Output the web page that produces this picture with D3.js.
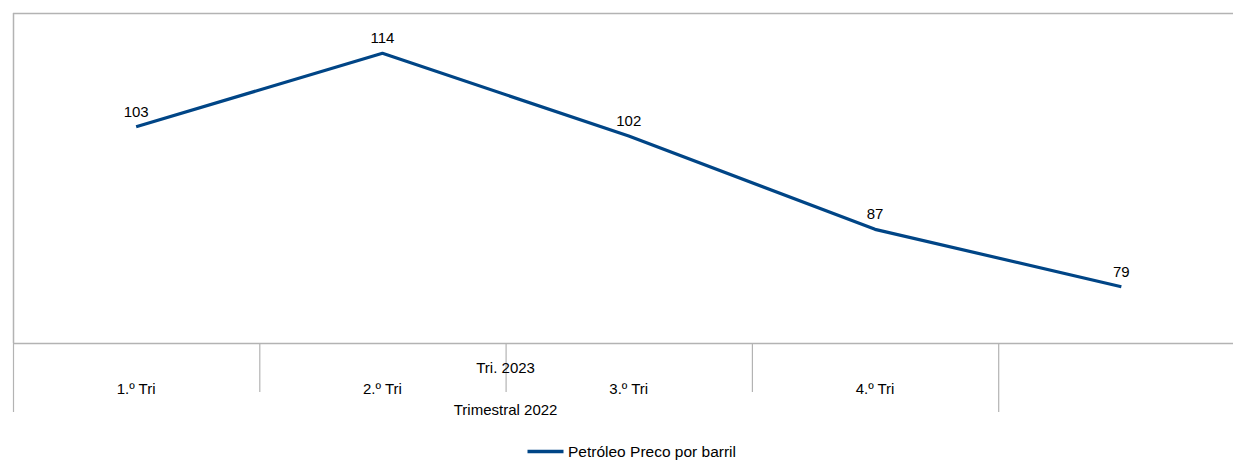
<!DOCTYPE html>
<html>
<head>
<meta charset="utf-8">
<script src="https://cdn.jsdelivr.net/npm/d3@7"></script>
<style>
  html, body { margin: 0; padding: 0; background: #fff; overflow: hidden; }
  svg { display: block; }
  text { font-family: "Liberation Sans", Arial, sans-serif; font-size: 15px; fill: #000; }
</style>
</head>
<body>
<svg id="chart" width="1233" height="460"></svg>
<script>
// Quarterly oil price per barrel
const categories = ["1.º Tri", "2.º Tri", "3.º Tri", "4.º Tri", ""];
const prices = [102.97, 114.09, 101.56, 87.42, 78.73];
const seriesName = "Petróleo Preco por barril";
const groupLabels = ["Trimestral 2022", "Tri. 2023"];
const yDomain = [70.2, 120.2];

const W = 1233, H = 460;
const plot = { left: 13, top: 13, right: 1244.5, bottom: 343 };
const lineColor = "#004586";
const frameColor = "#b3b3b3";

const svg = d3.select("#chart");

const x = d3.scaleBand()
  .domain(d3.range(categories.length))
  .range([plot.left, plot.right])
  .paddingInner(0).paddingOuter(0);

const y = d3.scaleLinear().domain(yDomain).range([plot.bottom, plot.top]);

// plot frame: top and left edges
svg.append("line")
  .attr("x1", plot.left).attr("x2", plot.right)
  .attr("y1", plot.top + 0.5).attr("y2", plot.top + 0.5)
  .attr("stroke", frameColor).attr("stroke-width", 1.5);
svg.append("line")
  .attr("x1", plot.left + 0.5).attr("x2", plot.left + 0.5)
  .attr("y1", plot.top).attr("y2", plot.bottom)
  .attr("stroke", frameColor).attr("stroke-width", 1.5);

// category axis line
svg.append("line")
  .attr("x1", plot.left).attr("x2", plot.right)
  .attr("y1", plot.bottom + 0.5).attr("y2", plot.bottom + 0.5)
  .attr("stroke", frameColor).attr("stroke-width", 1.5);

// divider ticks between categories; group boundaries run longer
const innerTickEnd = 392, outerTickEnd = 412;
const groupEdges = [0, 4];
d3.range(categories.length + 1).forEach(i => {
  const xi = i < categories.length ? x(i) : x(i - 1) + x.bandwidth();
  const isEdge = groupEdges.includes(i);
  svg.append("line")
    .attr("x1", xi + 0.5).attr("x2", xi + 0.5)
    .attr("y1", plot.bottom).attr("y2", isEdge ? outerTickEnd : innerTickEnd)
    .attr("stroke", frameColor).attr("stroke-width", 1.2);
});

// category labels
svg.append("g").selectAll("text")
  .data(categories)
  .join("text")
  .attr("x", (d, i) => x(i) + x.bandwidth() / 2)
  .attr("y", 394)
  .attr("text-anchor", "middle")
  .text(d => d);

// group labels centred under the 2022 quarters
const groupCenter = (x(0) + x(3) + x.bandwidth()) / 2;
svg.append("text")
  .attr("x", groupCenter).attr("y", 415)
  .attr("text-anchor", "middle")
  .text(groupLabels[0]);
svg.append("text")
  .attr("x", groupCenter).attr("y", 373)
  .attr("text-anchor", "middle")
  .text(groupLabels[1]);

// price line
const line = d3.line()
  .x((d, i) => x(i) + x.bandwidth() / 2)
  .y(d => y(d));

svg.append("path")
  .datum(prices)
  .attr("d", line)
  .attr("fill", "none")
  .attr("stroke", lineColor)
  .attr("stroke-width", 3.2)
  .attr("stroke-linejoin", "round");

// value labels
const fmt = d3.format(".0f");
svg.append("g").selectAll("text")
  .data(prices)
  .join("text")
  .attr("x", (d, i) => x(i) + x.bandwidth() / 2)
  .attr("y", d => y(d) - 10)
  .attr("text-anchor", "middle")
  .text(d => fmt(d));

// legend
svg.append("line")
  .attr("x1", 527.5).attr("x2", 563.5)
  .attr("y1", 451.5).attr("y2", 451.5)
  .attr("stroke", lineColor).attr("stroke-width", 3.5);
svg.append("text")
  .attr("x", 568).attr("y", 456.5)
  .style("font-size", "15.5px")
  .text(seriesName);
</script>
</body>
</html>
